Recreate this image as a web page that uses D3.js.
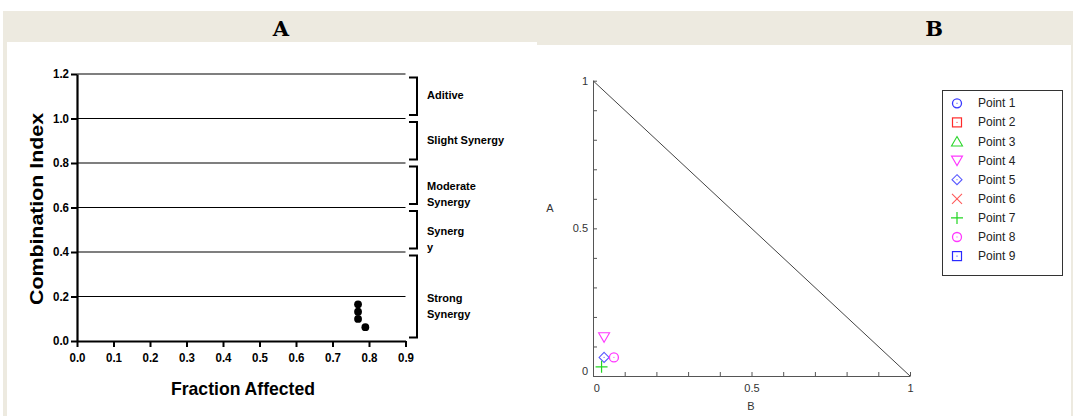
<!DOCTYPE html>
<html>
<head>
<meta charset="utf-8">
<script src="https://cdn.jsdelivr.net/npm/d3@7"></script>
<style>
  body { margin: 0; background: #fff; }
  svg { display: block; }
  .a-axis text { font-family: "Liberation Sans", Arial, sans-serif; font-weight: bold; font-size: 12px; fill: #000; }
  .b-axis text { font-family: "Liberation Sans", Arial, sans-serif; font-size: 11px; fill: #333; }
</style>
</head>
<body>
<svg id="chart" width="1073" height="416"></svg>
<script>
// panel A: combination index vs fraction affected
const faValues = [0.77, 0.77, 0.77, 0.79];
const ciValues = [0.165, 0.132, 0.099, 0.062];
const xTicksA = [0, 0.1, 0.2, 0.3, 0.4, 0.5, 0.6, 0.7, 0.8, 0.9];
const yTicksA = [0, 0.2, 0.4, 0.6, 0.8, 1.0, 1.2];
const bandHigh = [1.2, 1.0, 0.8, 0.6, 0.4];
const bandLow = [1.0, 0.8, 0.6, 0.4, 0.0];
const bandLabels = [['Aditive'], ['Slight Synergy'], ['Moderate', 'Synergy'], ['Synerg', 'y'], ['Strong', 'Synergy']];

// panel B: isobologram
const pointNames = ['Point 1', 'Point 2', 'Point 3', 'Point 4', 'Point 5', 'Point 6', 'Point 7', 'Point 8', 'Point 9'];
const pointB = [null, null, null, 0.035, 0.035, null, 0.027, 0.066, null];
const pointA = [null, null, null, 0.131, 0.063, null, 0.031, 0.063, null];
const ticksB = [0, 0.1, 0.2, 0.3, 0.4, 0.5, 0.6, 0.7, 0.8, 0.9, 1];
const labelTicksB = [0, 0.5, 1];

const svg = d3.select('#chart');
const beige = '#edeae0';

// page frame
svg.append('rect').attr('x', 3).attr('y', 11).attr('width', 1070).attr('height', 31).attr('fill', beige);
svg.append('rect').attr('x', 537).attr('y', 11).attr('width', 536).attr('height', 34).attr('fill', beige);
svg.append('rect').attr('x', 3).attr('y', 11).attr('width', 4).attr('height', 405).attr('fill', beige);
svg.append('rect').attr('x', 1071).attr('y', 11).attr('width', 2).attr('height', 405).attr('fill', beige);

const headFont = '"DejaVu Serif", serif';
svg.append('text').attr('x', 281).attr('y', 28).attr('text-anchor', 'middle')
    .attr('dominant-baseline', 'central').attr('font-family', headFont)
    .attr('font-weight', 'bold').attr('font-size', 21).text('A');
svg.append('text').attr('x', 934).attr('y', 28).attr('text-anchor', 'middle')
    .attr('dominant-baseline', 'central').attr('font-family', headFont)
    .attr('font-weight', 'bold').attr('font-size', 21).text('B');

// ---------- panel A ----------
const xA = d3.scaleLinear().domain([0, 0.9]).range([77, 405.5]);
const yA = d3.scaleLinear().domain([0, 1.2]).range([341, 74]);
const gA = svg.append('g');

gA.selectAll('line.grid')
    .data(yTicksA.filter(d => d > 0))
    .join('line')
    .attr('class', 'grid')
    .attr('x1', xA(0)).attr('x2', xA(0.9))
    .attr('y1', d => yA(d)).attr('y2', d => yA(d))
    .attr('stroke', '#000').attr('stroke-width', 1.2);

const xAxisA = gA.append('g').attr('class', 'a-axis')
    .attr('transform', 'translate(0,' + yA(0) + ')')
    .call(d3.axisBottom(xA).tickValues(xTicksA).tickFormat(d3.format('.1f'))
        .tickSize(6).tickSizeOuter(0).tickPadding(6));
const yAxisA = gA.append('g').attr('class', 'a-axis')
    .attr('transform', 'translate(' + xA(0) + ',0)')
    .call(d3.axisLeft(yA).tickValues(yTicksA).tickFormat(d3.format('.1f'))
        .tickSize(6).tickSizeOuter(0).tickPadding(2));
[xAxisA, yAxisA].forEach(ax => {
    ax.select('.domain').attr('stroke', '#000').attr('stroke-width', 2.2);
    ax.selectAll('.tick line').attr('stroke', '#000').attr('stroke-width', 2);
    ax.selectAll('.tick text').attr('textLength', 16).attr('lengthAdjust', 'spacingAndGlyphs');
});

// brackets for the synergy bands
const bx = 417;
bandHigh.forEach((hi, i) => {
    const top = yA(hi) + 3.5;
    const bot = yA(bandLow[i]) - 3.5;
    gA.append('path')
        .attr('d', 'M' + (bx - 8) + ',' + top + 'H' + bx + 'V' + bot + 'H' + (bx - 8))
        .attr('fill', 'none').attr('stroke', '#000').attr('stroke-width', 2);
    const mid = (yA(hi) + yA(bandLow[i])) / 2;
    const lines = bandLabels[i];
    gA.append('text')
        .attr('font-family', '"Liberation Sans", Arial, sans-serif')
        .attr('font-weight', 'bold').attr('font-size', 11)
        .selectAll('tspan')
        .data(lines)
        .join('tspan')
        .attr('x', 427)
        .attr('y', (d, j) => mid + (lines.length > 1 ? 1 : -1) + j * 16)
        .attr('dominant-baseline', 'central')
        .text(d => d);
});

gA.selectAll('circle.pt')
    .data(faValues)
    .join('circle')
    .attr('class', 'pt')
    .attr('cx', d => xA(d))
    .attr('cy', (d, i) => yA(ciValues[i]))
    .attr('r', 3.9)
    .attr('fill', '#000');

gA.append('text')
    .attr('transform', 'translate(36,209) rotate(-90)')
    .attr('text-anchor', 'middle').attr('dominant-baseline', 'central')
    .attr('font-family', '"Liberation Sans", Arial, sans-serif')
    .attr('font-weight', 'bold').attr('font-size', 19)
    .attr('textLength', 192).attr('lengthAdjust', 'spacingAndGlyphs')
    .text('Combination Index');

gA.append('text')
    .attr('x', 243).attr('y', 388)
    .attr('text-anchor', 'middle').attr('dominant-baseline', 'central')
    .attr('font-family', '"Liberation Sans", Arial, sans-serif')
    .attr('font-weight', 'bold').attr('font-size', 19)
    .attr('textLength', 144).attr('lengthAdjust', 'spacingAndGlyphs')
    .text('Fraction Affected');

// ---------- panel B ----------
const xB = d3.scaleLinear().domain([0, 1]).range([593, 910]);
const yB = d3.scaleLinear().domain([0, 1]).range([376, 80.7]);
const gB = svg.append('g');
const fmtB = d => labelTicksB.includes(d) ? d3.format('~g')(d) : '';

const xAxisB = gB.append('g').attr('class', 'b-axis')
    .attr('transform', 'translate(0,' + yB(0) + ')')
    .call(d3.axisBottom(xB).tickValues(ticksB).tickFormat(fmtB)
        .tickSize(-4).tickSizeOuter(0).tickPadding(8));
const yAxisB = gB.append('g').attr('class', 'b-axis')
    .attr('transform', 'translate(' + xB(0) + ',0)')
    .call(d3.axisLeft(yB).tickValues(ticksB).tickFormat(fmtB)
        .tickSize(-4).tickSizeOuter(0).tickPadding(5));
[xAxisB, yAxisB].forEach(ax => {
    ax.select('.domain').attr('stroke', '#555');
    ax.selectAll('.tick line').attr('stroke', '#555');
});
yAxisB.selectAll('.tick').filter(d => d === 0).select('text').attr('dy', '-0.1em');
xAxisB.selectAll('.tick').filter(d => d === 0).select('text').attr('dx', '0.3em');

gB.append('line')
    .attr('x1', xB(0)).attr('y1', yB(1))
    .attr('x2', xB(1)).attr('y2', yB(0))
    .attr('stroke', '#444');

gB.append('text').attr('x', 550).attr('y', 208)
    .attr('text-anchor', 'middle').attr('dominant-baseline', 'central')
    .attr('font-family', '"Liberation Sans", Arial, sans-serif')
    .attr('font-size', 11).attr('fill', '#333').text('A');
gB.append('text').attr('x', 751).attr('y', 406)
    .attr('text-anchor', 'middle').attr('dominant-baseline', 'central')
    .attr('font-family', '"Liberation Sans", Arial, sans-serif')
    .attr('font-size', 11).attr('fill', '#333').text('B');

// marker shapes for the nine points
const shapes = ['circle', 'square', 'triangle', 'itriangle', 'diamond', 'x', 'plus', 'circle', 'square'];
const colors = ['#3838ff', '#ff2a2a', '#2ad62a', '#ff38ff', '#5a5aff', '#ff5a5a', '#22d622', '#ff38ff', '#2a2aff'];

function drawMarker(g, shape, color) {
    const s = 5;
    if (shape === 'circle') {
        g.append('circle').attr('r', 4.5).attr('fill', 'none').attr('stroke', color).attr('stroke-width', 1.3);
        g.append('rect').attr('x', -0.5).attr('y', -0.5).attr('width', 1).attr('height', 1).attr('fill', color);
    } else if (shape === 'square') {
        g.append('rect').attr('x', -4.5).attr('y', -4.5).attr('width', 9).attr('height', 9)
            .attr('fill', 'none').attr('stroke', color).attr('stroke-width', 1.2);
        g.append('rect').attr('x', -0.5).attr('y', -0.5).attr('width', 1).attr('height', 1).attr('fill', color);
    } else if (shape === 'triangle') {
        g.append('path').attr('d', 'M0,' + (-s) + 'L' + (s + 0.5) + ',' + (s - 0.5) + 'H' + (-s - 0.5) + 'Z')
            .attr('fill', 'none').attr('stroke', color).attr('stroke-width', 1.1);
    } else if (shape === 'itriangle') {
        g.append('path').attr('d', 'M0,' + s + 'L' + (s + 0.5) + ',' + (-s + 0.5) + 'H' + (-s - 0.5) + 'Z')
            .attr('fill', 'none').attr('stroke', color).attr('stroke-width', 1.1);
    } else if (shape === 'diamond') {
        g.append('path').attr('d', 'M0,' + (-s) + 'L' + s + ',0L0,' + s + 'L' + (-s) + ',0Z')
            .attr('fill', 'none').attr('stroke', color).attr('stroke-width', 1.1);
        g.append('rect').attr('x', -0.5).attr('y', -0.5).attr('width', 1).attr('height', 1).attr('fill', color);
    } else if (shape === 'x') {
        g.append('path').attr('d', 'M' + (-s) + ',' + (-s) + 'L' + s + ',' + s + 'M' + s + ',' + (-s) + 'L' + (-s) + ',' + s)
            .attr('stroke', color).attr('stroke-width', 1.1);
    } else if (shape === 'plus') {
        g.append('path').attr('d', 'M' + (-s - 1) + ',0H' + (s + 1) + 'M0,' + (-s - 1) + 'V' + (s + 1))
            .attr('stroke', color).attr('stroke-width', 1.2);
    }
}

pointNames.forEach((name, i) => {
    if (pointB[i] == null) return;
    const g = gB.append('g').attr('transform', 'translate(' + xB(pointB[i]) + ',' + yB(pointA[i]) + ')');
    drawMarker(g, shapes[i], colors[i]);
});

// legend
const legend = svg.append('g').attr('transform', 'translate(942,90)');
legend.append('rect').attr('x', 0.5).attr('y', 0.5).attr('width', 120).attr('height', 185)
    .attr('fill', '#fff').attr('stroke', '#333');
pointNames.forEach((name, i) => {
    const row = legend.append('g').attr('transform', 'translate(15,' + (13.3 + i * 19.1) + ')');
    drawMarker(row, shapes[i], colors[i]);
    row.append('text').attr('x', 21).attr('y', 0)
        .attr('dominant-baseline', 'central')
        .attr('font-family', '"Liberation Sans", Arial, sans-serif')
        .attr('font-size', 12).attr('fill', '#222')
        .text(name);
});
</script>
</body>
</html>
